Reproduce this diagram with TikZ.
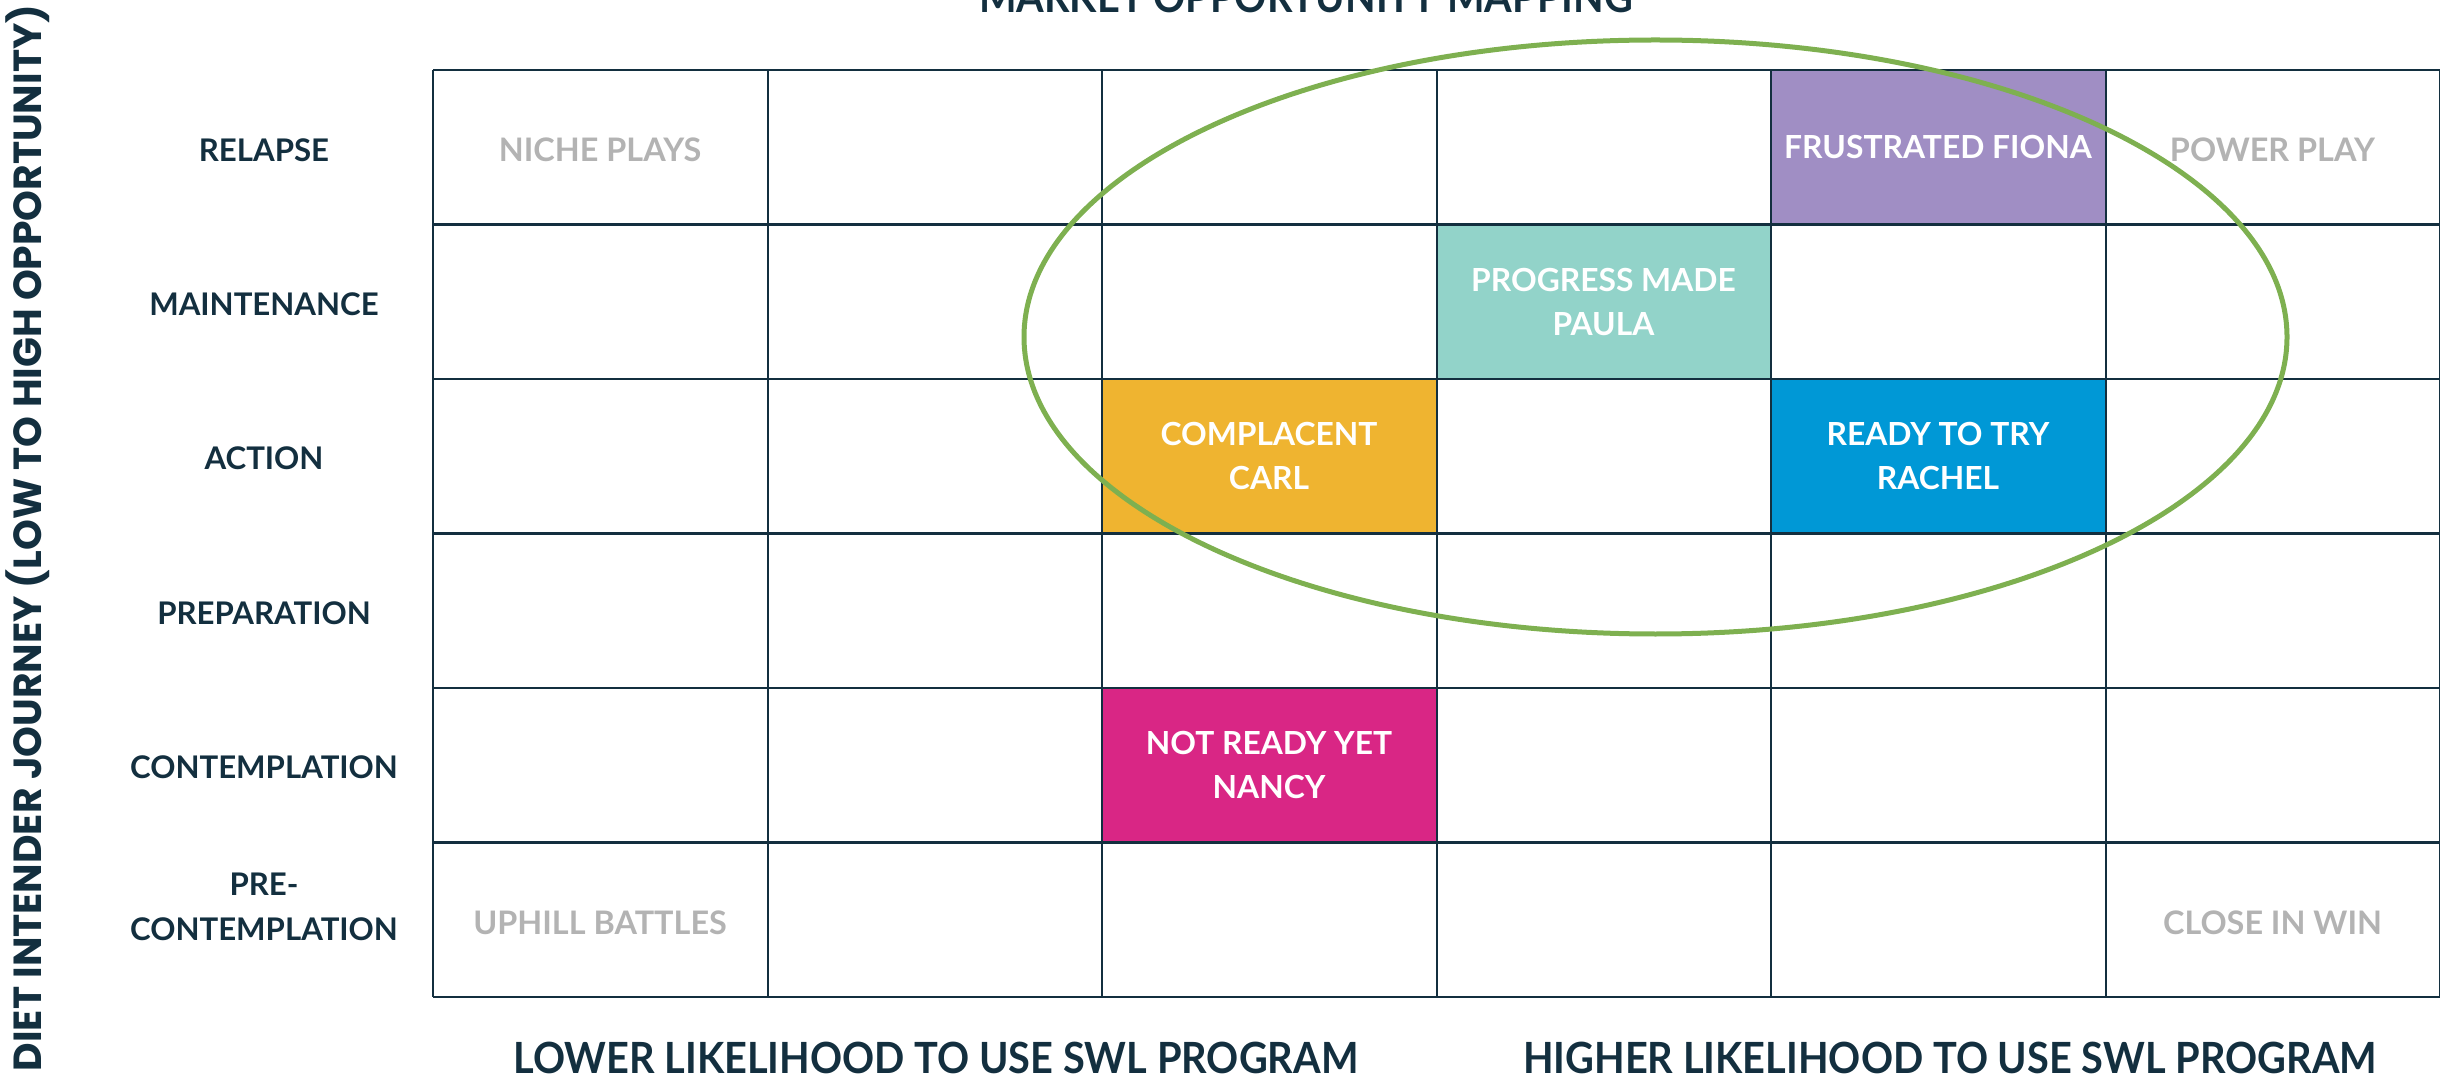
\documentclass[tikz,border=0pt]{standalone}
\usepackage{fontspec}
\setmainfont{Lato}
\newfontfamily\headfont{Lato}[FakeStretch=0.925]
\newfontfamily\sidefont{Poppins}
\usetikzlibrary{positioning}
\definecolor{ink}{HTML}{132F3F}
\definecolor{muted}{HTML}{B3B3B3}
\definecolor{lilac}{HTML}{A08EC4}
\definecolor{mint}{HTML}{92D3C9}
\definecolor{amber}{HTML}{EFB430}
\definecolor{sky}{HTML}{0098D6}
\definecolor{berry}{HTML}{D92685}
\definecolor{leaf}{HTML}{7EB050}
\tikzset{
  stage/.style={align=center,text=ink,inner sep=0pt,font=\bfseries\fontsize{15.6}{22.5}\selectfont},
  persona/.style={minimum width=167.25pt,minimum height=77.25pt,inner sep=0pt,align=center,text=white,font=\bfseries\fontsize{15.9}{21.8}\selectfont},
  corner/.style={inner sep=0pt,text=muted,font=\bfseries\fontsize{16.2}{21.5}\selectfont},
  axis/.style={inner sep=0pt,text=ink,anchor=base,font=\headfont\bfseries\fontsize{21.5}{26}\selectfont},
  hline/.style={draw=ink,line width=1.35pt},
  vline/.style={draw=ink,line width=1pt},
  ring/.style={draw=leaf,line width=2.5pt},
}

\begin{document}
\begin{tikzpicture}[x=0.5pt,y=-0.5pt]
  \useasboundingbox (0,0) rectangle (2440,1079);
  \clip (0,0) rectangle (2440,1079);

  % personas sit in the grid cells
  \node[persona,fill=lilac] (fiona)  at (1938,147.25)  {FRUSTRATED FIONA};
  \node[persona,fill=mint]  (paula)  at (1603.5,301.75) {PROGRESS MADE\\PAULA};
  \node[persona,fill=amber] (carl)   at (1269,456.25)  {COMPLACENT\\CARL};
  \node[persona,fill=sky]   (rachel) at (1938,456.25)  {READY TO TRY\\RACHEL};
  \node[persona,fill=berry] (nancy)  at (1269,765.25)  {NOT READY YET\\NANCY};

  % grid
  \foreach \y in {70,224.5,379,533.5,688,842.5,997}
    \draw[hline] (433,\y) -- (2440,\y);
  \foreach \x in {433,767.5,1102,1436.5,1771,2105.5,2440}
    \draw[vline] (\x,70) -- (\x,997);

  % corner labels
  \node[corner] (niche)  at (600,150)    {NICHE PLAYS};
  \node[corner] (power)  at (2272.5,150) {POWER PLAY};
  \node[corner] (uphill) at (600,923)    {UPHILL BATTLES};
  \node[corner] (close)  at (2272.5,923) {CLOSE IN WIN};

  % stages of the journey
  \node[stage] (relapse) at (264,150)  {RELAPSE};
  \node[stage] (maint)   at (264,304)  {MAINTENANCE};
  \node[stage] (action)  at (264,458)  {ACTION};
  \node[stage] (prep)    at (264,613)  {PREPARATION};
  \node[stage] (contemp) at (264,767)  {CONTEMPLATION};
  \node[stage] (precon)  at (264,907)  {PRE-\\CONTEMPLATION};

  % axes and title
  \node[axis] (title)  at (1306,13)   {MARKET OPPORTUNITY MAPPING};
  \node[axis] (lower)  at (936,1073)  {LOWER LIKELIHOOD TO USE SWL PROGRAM};
  \node[axis] (higher) at (1950,1073) {HIGHER LIKELIHOOD TO USE SWL PROGRAM};
  \node[inner sep=0pt,anchor=base,rotate=90,text=ink,font=\sidefont\bfseries\fontsize{19.6}{22}\selectfont]
    (journey) at (41.7,538) {DIET INTENDER JOURNEY (LOW TO HIGH OPPORTUNITY)};

  % target zone
  \draw[ring] (1655.5,337) ellipse [x radius=315.75pt,y radius=148.5pt];
\end{tikzpicture}
\end{document}
